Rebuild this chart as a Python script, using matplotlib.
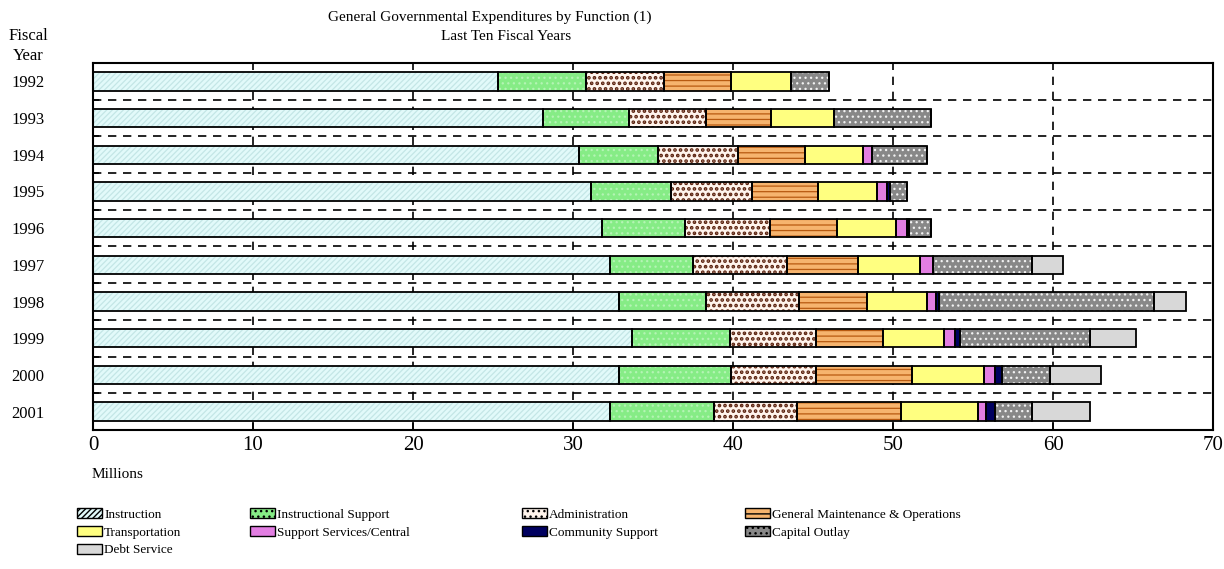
import numpy as np
import matplotlib
matplotlib.use("Agg")
import matplotlib.pyplot as plt
from matplotlib.patches import Patch

plt.rcParams['font.family'] = ['Liberation Serif', 'DejaVu Serif']

# fiscal years, top to bottom
years = ['1992', '1993', '1994', '1995', '1996', '1997', '1998', '1999', '2000', '2001']

functions = ['Instruction', 'Instructional Support', 'Administration',
             'General Maintenance & Operations', 'Transportation',
             'Support Services/Central', 'Community Support', 'Capital Outlay',
             'Debt Service']

# expenditures in millions
instruction = [25.3, 28.1, 30.4, 31.1, 31.8, 32.3, 32.9, 33.7, 32.9, 32.3]
instr_support = [5.5, 5.4, 4.9, 5.0, 5.2, 5.2, 5.4, 6.1, 7.0, 6.5]
administration = [4.9, 4.8, 5.0, 5.1, 5.3, 5.9, 5.8, 5.4, 5.3, 5.2]
maintenance = [4.2, 4.1, 4.2, 4.1, 4.2, 4.4, 4.3, 4.2, 6.0, 6.5]
transportation = [3.7, 3.9, 3.6, 3.7, 3.7, 3.9, 3.7, 3.8, 4.5, 4.8]
support_central = [0.0, 0.0, 0.6, 0.6, 0.7, 0.8, 0.6, 0.7, 0.7, 0.5]
community = [0.0, 0.0, 0.0, 0.2, 0.1, 0.0, 0.2, 0.3, 0.4, 0.6]
capital_outlay = [2.4, 6.1, 3.4, 1.1, 1.4, 6.2, 13.4, 8.1, 3.0, 2.3]
debt_service = [0.0, 0.0, 0.0, 0.0, 0.0, 1.9, 2.0, 2.9, 3.2, 3.6]

series = [instruction, instr_support, administration, maintenance, transportation,
          support_central, community, capital_outlay, debt_service]

# face colour, hatch colour, hatch pattern, hatch line width
styles = [
    ('#e2fafa', '#c4e6e6', '//////', 0.9),
    ('#86ec86', '#b4f4b4', '...', 0.9),
    ('#fff4ec', '#5a200c', '...', 1.8),
    ('#f6b46e', '#b85a10', '---', 0.9),
    ('#ffff80', '#ffff80', '', 0.9),
    ('#e27ee2', '#e27ee2', '', 0.9),
    ('#000060', '#000060', '', 0.9),
    ('#888888', '#f2f2f2', '...', 0.9),
    ('#d8d8d8', '#d8d8d8', '', 0.9),
]

fig = plt.figure(figsize=(12.24, 5.69), dpi=100)
ax = fig.add_axes([93 / 1224, 1 - 430 / 569, 1120 / 1224, 367 / 569])

y = np.arange(len(years))
left = np.zeros(len(years))
handles = []
for vals, name, (fc, hc, h, hlw) in zip(series, functions, styles):
    vals = np.array(vals)
    with plt.rc_context({'hatch.linewidth': hlw}):
        ax.barh(y, vals, left=left, height=0.5, color=fc, edgecolor=hc,
                hatch=h, linewidth=0, zorder=2)
        handles.append(Patch(facecolor=fc, edgecolor='black', hatch=h, linewidth=1.0,
                             label=name))
    ax.barh(y, vals, left=left, height=0.5, fill=False, edgecolor='black',
            linewidth=1.3, zorder=3)
    left += vals

ax.set_xlim(0, 70)
ax.set_ylim(len(years) - 0.5, -0.5)
ax.set_xticks(np.arange(0, 71, 10))
ax.set_xticklabels([str(v) for v in range(0, 71, 10)], fontsize=15)
ax.set_yticks(y)
ax.set_yticklabels(years, fontsize=12)
ax.set_yticks(y[:-1] + 0.5, minor=True)
ax.tick_params(axis='y', which='major', length=0, pad=35)
ax.tick_params(axis='y', which='minor', direction='in', length=4, width=1.2)
ax.tick_params(axis='x', direction='in', length=5, width=1.2, pad=4)

ax.grid(axis='x', which='major', linestyle=(0, (5, 4)), color='black', linewidth=1.2, zorder=1)
ax.grid(axis='y', which='minor', linestyle=(0, (5, 4)), color='black', linewidth=1.2, zorder=1)
ax.grid(axis='y', which='major', visible=False)
ax.set_axisbelow(True)
for sp in ax.spines.values():
    sp.set_linewidth(1.5)

fig.text(490 / 1224, 1 - 17 / 569, 'General Governmental Expenditures by Function (1)',
         ha='center', va='center', fontsize=11)
fig.text(506 / 1224, 1 - 37 / 569, 'Last Ten Fiscal Years',
         ha='center', va='center', fontsize=11)
fig.text(28 / 1224, 1 - 46 / 569, 'Fiscal\nYear', ha='center', va='center',
         fontsize=12, linespacing=1.25)
fig.text(92 / 1224, 1 - 474 / 569, 'Millions', ha='left', va='center', fontsize=11)

# legend laid out row by row in four columns
columns = [[0, 4, 8], [1, 5], [2, 6], [3, 7]]
col_x = [77, 250, 522, 745]
for idx, cx in zip(columns, col_x):
    fig.legend([handles[i] for i in idx], [functions[i] for i in idx],
               loc='upper left', bbox_to_anchor=(cx / 1224, 1 - 508 / 569),
               frameon=False, fontsize=9.5, handlelength=1.9, handleheight=0.8,
               handletextpad=0.15, labelspacing=0.4, borderpad=0, borderaxespad=0)

fig.savefig('out.png', dpi=100)
